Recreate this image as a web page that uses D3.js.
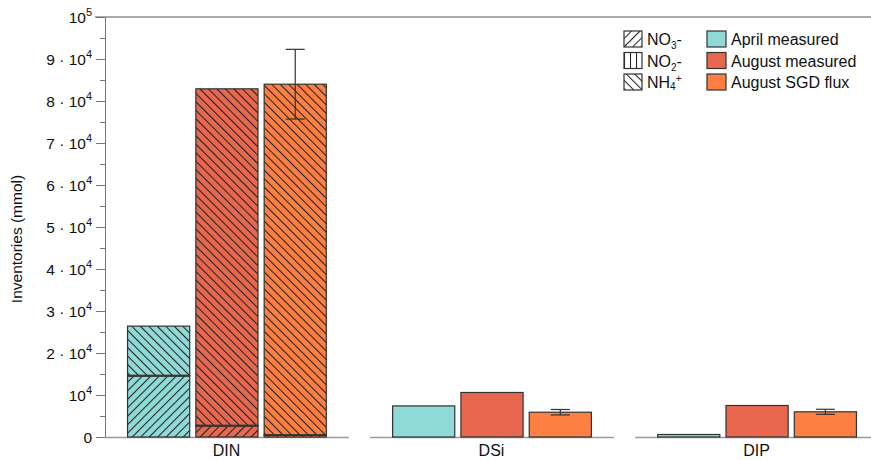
<!DOCTYPE html>
<html>
<head>
<meta charset="utf-8">
<script src="https://cdn.jsdelivr.net/npm/d3@7"></script>
<style>
  body { margin: 0; background: #fff; }
  svg { font-family: "Liberation Sans", Arial, sans-serif; }
</style>
</head>
<body>
<svg id="chart" width="871" height="460"></svg>
<script>
// ---- data ----
const groups = ["DIN", "DSi", "DIP"];
const seriesNames = ["April measured", "August measured", "August SGD flux"];
const seriesColors = ["#8fdad6", "#e8684f", "#fd7f42"];
// DIN split into species (mmol)
const dinNO3 = [14500, 2600, 400];
const dinNO2 = [200, 200, 150];
const dinNH4 = [11700, 80100, 83450];
// DSi and DIP totals (mmol)
const dsiValues = [7400, 10600, 5900];
const dipValues = [600, 7500, 6000];
// error bars (August SGD flux only)
const sgdErr = { DIN: 8300, DSi: 650, DIP: 600 };
const yTicks = [0, 10000, 20000, 30000, 40000, 50000, 60000, 70000, 80000, 90000, 100000];
const yTickLabels = ["0", "10|4", "2 · 10|4", "3 · 10|4", "4 · 10|4", "5 · 10|4", "6 · 10|4", "7 · 10|4", "8 · 10|4", "9 · 10|4", "10|5"];
const species = ["NO3", "NO2", "NH4"];

(function () {
const svg = d3.select("#chart");
const mLeft = 105, mRight = 879, mTop = 17, mBottom = 437;

const y = d3.scaleLinear().domain([0, 100000]).range([mBottom, mTop]);
const xg = d3.scaleBand().domain(groups).range([mLeft, mRight]).paddingInner(0.08).paddingOuter(0);
const xs = d3.scaleBand().domain(seriesNames).range([0, xg.bandwidth()]).paddingInner(0.09).paddingOuter(0.33);

// patterns
const defs = svg.append("defs");
function hatch(id, angle) {
  const p = defs.append("pattern").attr("id", id).attr("patternUnits", "userSpaceOnUse")
    .attr("width", 6).attr("height", 6).attr("patternTransform", `rotate(${angle})`);
  p.append("line").attr("x1", 0.5).attr("y1", -1).attr("x2", 0.5).attr("y2", 7)
    .attr("stroke", "#222").attr("stroke-width", 1.1);
}
hatch("hNO3", 45);
hatch("hNO2", 0);
hatch("hNH4", -45);
const patId = { NO3: "hNO3", NO2: "hNO2", NH4: "hNH4" };

// top frame line
svg.append("line").attr("x1", 95).attr("x2", 871).attr("y1", mTop).attr("y2", mTop)
  .attr("stroke", "#555").attr("stroke-width", 1);

// y axis
const yAxis = d3.axisLeft(y).tickValues(yTicks).tickSize(9).tickFormat("");
const ya = svg.append("g").attr("transform", `translate(${mLeft},0)`).call(yAxis);
ya.select(".domain").attr("stroke", "#777");
ya.selectAll(".tick line").attr("stroke", "#777");
const minor = d3.range(5000, 100000, 10000);
svg.append("g").attr("transform", `translate(${mLeft},0)`)
  .call(d3.axisLeft(y).tickValues(minor).tickSize(5).tickFormat(""))
  .call(g => { g.select(".domain").remove(); g.selectAll("line").attr("stroke", "#777"); });

yTicks.forEach((v, i) => {
  const parts = yTickLabels[i].split("|");
  const t = svg.append("text").attr("x", 92).attr("y", y(v) + 5.5)
    .attr("text-anchor", "end").attr("font-size", 15.5).attr("fill", "#111")
    .attr("xml:space", "preserve").style("white-space", "pre");
  if (parts.length === 1) {
    t.text(parts[0]);
  } else {
    t.append("tspan").text(parts[0]);
    t.append("tspan").text(parts[1]).attr("font-size", 11).attr("dy", -7);
  }
});

svg.append("text").attr("transform", `translate(22,${(mTop + mBottom) / 2 + 12}) rotate(-90)`)
  .attr("text-anchor", "middle").attr("font-size", 15.5).attr("fill", "#111")
  .text("Inventories (mmol)");

// baselines per group
groups.forEach(g => {
  svg.append("line").attr("x1", xg(g)).attr("x2", xg(g) + xg.bandwidth())
    .attr("y1", mBottom + 0.5).attr("y2", mBottom + 0.5).attr("stroke", "#999").attr("stroke-width", 1.5);
  svg.append("text").attr("x", xg(g) + xg.bandwidth() / 2 - 0.5).attr("y", 456)
    .attr("text-anchor", "middle").attr("font-size", 16).attr("fill", "#111").text(g);
});

// DIN stacked bars
const dinStack = seriesNames.map((s, i) => {
  let base = 0;
  const vals = { NO3: dinNO3[i], NO2: dinNO2[i], NH4: dinNH4[i] };
  return species.map(sp => {
    const seg = { series: s, idx: i, sp, y0: base, y1: base + vals[sp] };
    base += vals[sp];
    return seg;
  });
}).flat();

const dinG = svg.append("g");
dinStack.forEach(d => {
  const x0 = xg("DIN") + xs(d.series);
  const h = y(d.y0) - y(d.y1);
  dinG.append("rect").attr("x", x0).attr("y", y(d.y1)).attr("width", xs.bandwidth()).attr("height", h)
    .attr("fill", seriesColors[d.idx]);
  dinG.append("rect").attr("x", x0).attr("y", y(d.y1)).attr("width", xs.bandwidth()).attr("height", h)
    .attr("fill", `url(#${patId[d.sp]})`).attr("stroke", "#333").attr("stroke-width", 1.2);
});

// DSi and DIP bars
[["DSi", dsiValues], ["DIP", dipValues]].forEach(([g, vals]) => {
  vals.forEach((v, i) => {
    svg.append("rect").attr("x", xg(g) + xs(seriesNames[i])).attr("y", y(v))
      .attr("width", xs.bandwidth()).attr("height", y(0) - y(v))
      .attr("fill", seriesColors[i]).attr("stroke", "#333").attr("stroke-width", 1.2);
  });
});

// error bars
const totals = { DIN: dinNO3[2] + dinNO2[2] + dinNH4[2], DSi: dsiValues[2], DIP: dipValues[2] };
groups.forEach(g => {
  const cx = xg(g) + xs(seriesNames[2]) + xs.bandwidth() / 2;
  const hi = totals[g] + sgdErr[g], lo = totals[g] - sgdErr[g];
  const eg = svg.append("g").attr("stroke", "#333").attr("stroke-width", 1.2);
  eg.append("line").attr("x1", cx).attr("x2", cx).attr("y1", y(hi)).attr("y2", y(lo));
  eg.append("line").attr("x1", cx - 9.5).attr("x2", cx + 9.5).attr("y1", y(hi)).attr("y2", y(hi));
  eg.append("line").attr("x1", cx - 9.5).attr("x2", cx + 9.5).attr("y1", y(lo)).attr("y2", y(lo));
});

// legend
const legRows = [39, 60.5, 82];
const spLabels = [["NO", "3", "-", "sub"], ["NO", "2", "-", "sub"], ["NH", "4", "+", "sup"]];
species.forEach((sp, i) => {
  const cy = legRows[i];
  svg.append("rect").attr("x", 624).attr("y", cy - 8).attr("width", 18).attr("height", 16)
    .attr("fill", "#fff");
  svg.append("rect").attr("x", 624).attr("y", cy - 8).attr("width", 18).attr("height", 16)
    .attr("fill", `url(#${patId[sp]})`).attr("stroke", "#333").attr("stroke-width", 1.2);
  const [a, b, c, kind] = spLabels[i];
  const t = svg.append("text").attr("x", 647).attr("y", cy + 6).attr("font-size", 16).attr("fill", "#111");
  t.append("tspan").text(a);
  if (kind === "sub") {
    t.append("tspan").text(b).attr("font-size", 10).attr("dy", 4);
    t.append("tspan").text(c).attr("dy", -4);
  } else {
    t.append("tspan").text(b).attr("font-size", 10).attr("dy", 2);
    t.append("tspan").text(c).attr("font-size", 10).attr("dy", -8);
  }
});
seriesNames.forEach((s, i) => {
  const cy = legRows[i];
  svg.append("rect").attr("x", 707).attr("y", cy - 8).attr("width", 19).attr("height", 16)
    .attr("fill", seriesColors[i]).attr("stroke", "#333").attr("stroke-width", 1.2);
  svg.append("text").attr("x", 731).attr("y", cy + 6).attr("font-size", 16).attr("fill", "#111").text(s);
});
})();
</script>
</body>
</html>
